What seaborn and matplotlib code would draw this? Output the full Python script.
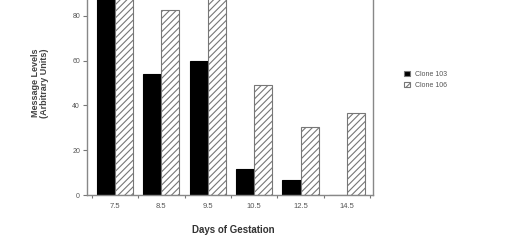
import matplotlib
matplotlib.use("Agg")
import matplotlib.pyplot as plt
import seaborn as sns
import pandas as pd

days = ["7.5", "8.5", "9.5", "10.5", "12.5", "14.5"]
clone_103 = [100, 54, 60, 11.5, 6.5, 0]
clone_106 = [100, 82.5, 95, 49, 30.5, 36.5]
yticks = [0, 20, 40, 60, 80]

df = pd.DataFrame({
    "day": days * 2,
    "value": clone_103 + clone_106,
    "clone": ["Clone 103"] * len(days) + ["Clone 106"] * len(days),
})

sns.set_style("white")
plt.rcParams["font.family"] = ["Liberation Sans", "DejaVu Sans"]
plt.rcParams["hatch.linewidth"] = 0.8

fig = plt.figure(figsize=(5.12, 2.49), dpi=100)
ax = fig.add_axes([87 / 512, 54 / 249, 286 / 512, 195 / 249])

sns.barplot(data=df, x="day", y="value", hue="clone", order=days,
            palette={"Clone 103": "black", "Clone 106": "white"},
            width=0.78, gap=0, edgecolor="#555555", linewidth=0.8,
            legend=True, ax=ax, saturation=1)

n = len(days)
for i, p in enumerate(ax.patches[: 2 * n]):
    if i >= n:
        p.set_hatch("/////")
        p.set_edgecolor("#777777")
    else:
        p.set_edgecolor("black")

ax.set_ylim(0, 87)
ax.set_xlim(-0.6, 5.56)
ax.set_yticks(yticks)
ax.set_yticklabels([str(t) for t in yticks], fontsize=5, color="#555555")
ax.set_xticks(range(n))
ax.set_xticklabels(days, fontsize=5.5, color="#555555")
ax.tick_params(axis="x", length=0, pad=6)
ax.tick_params(axis="y", length=3, width=0.8, color="#777777", pad=2, direction="out", left=True)
ax.set_xticks([i + 0.5 for i in range(-1, n)], minor=True)
ax.tick_params(axis="x", which="minor", length=2, width=0.8, color="#777777", bottom=True)

ax.spines["top"].set_visible(False)
for s in ["left", "right", "bottom"]:
    ax.spines[s].set_color("#888888")
    ax.spines[s].set_linewidth(1.0)

ax.set_xlabel("")
ax.set_ylabel("")
fig.text(233 / 512, 1 - 230 / 249, "Days of Gestation", ha="center", va="center",
         fontsize=7, fontweight="bold", color="#333333")
fig.text(40 / 512, 1 - 83 / 249, "Message Levels\n(Arbitrary Units)", ha="center", va="center",
         rotation=90, fontsize=6.5, fontweight="bold", color="#444444", linespacing=1.1)

handles, labels = ax.get_legend_handles_labels()
ax.get_legend().remove()
leg = fig.legend(handles, labels, loc="center left", bbox_to_anchor=(398 / 512, 1 - 80 / 249),
                 frameon=False, fontsize=5, handlelength=0.8, handleheight=0.8,
                 handletextpad=0.8, labelspacing=0.6, labelcolor="#555555")
for h in leg.legend_handles:
    h.set_edgecolor("#777777")
leg.legend_handles[1].set_hatch("/////")

fig.savefig("out.png", dpi=100)
